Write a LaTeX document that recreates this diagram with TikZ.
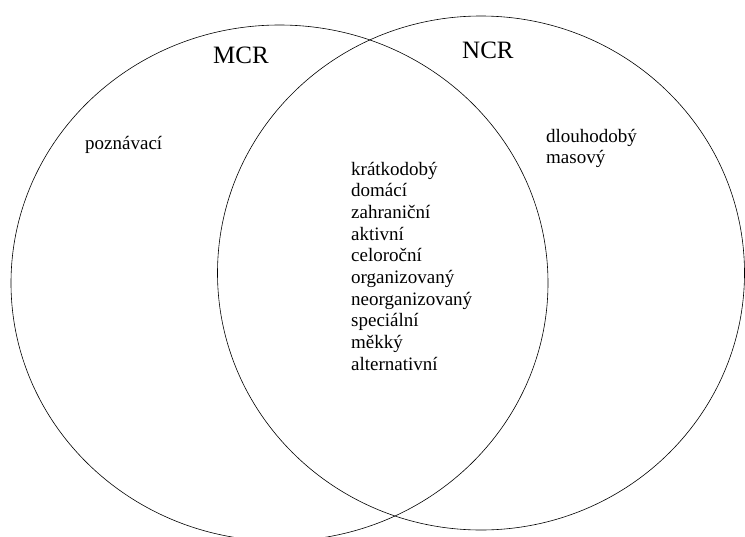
\documentclass[tikz,border=0pt]{standalone}
\usepackage{fontspec}
\setmainfont{Liberation Serif}
\usetikzlibrary{shapes.geometric}
\tikzstyle{setshape}=[draw, ellipse, line width=0.6pt, inner sep=0, outer sep=0]
\tikzstyle{title}=[inner sep=0, anchor=base west, font=\fontsize{25}{30}\selectfont]
\tikzstyle{itemtext}=[inner sep=0, anchor=base west, font=\fontsize{19}{22}\selectfont]
\begin{document}
\begin{tikzpicture}[x=1pt, y=-1pt]
        \useasboundingbox (0, 0) rectangle (745, 536);
        % the two sets
        \node[setshape, minimum width=537pt, minimum height=516pt] (MCR) at (279.5, 283) {};
        \node[setshape, minimum width=527pt, minimum height=514pt] (NCR) at (481, 273) {};
        \node[title] (MCRlabel) at (213, 63) {MCR};
        \node[title] (NCRlabel) at (462, 58) {NCR};
        % only in MCR
        \node[itemtext] (onlyM) at (85, 149) {poznávací};
        % only in NCR
        \node[itemtext] (onlyN1) at (546, 142) {dlouhodobý};
        \node[itemtext] (onlyN2) at (546, 163.5) {masový};
        % in both
        \foreach \word [count=\i from 0] in {krátkodobý, domácí, zahraniční, aktivní, celoroční,
                organizovaný, neorganizovaný, speciální, měkký, alternativní}
            \node[itemtext] (both\i) at (351, 175 + 21.7*\i) {\word};
    \end{tikzpicture}
\end{document}
